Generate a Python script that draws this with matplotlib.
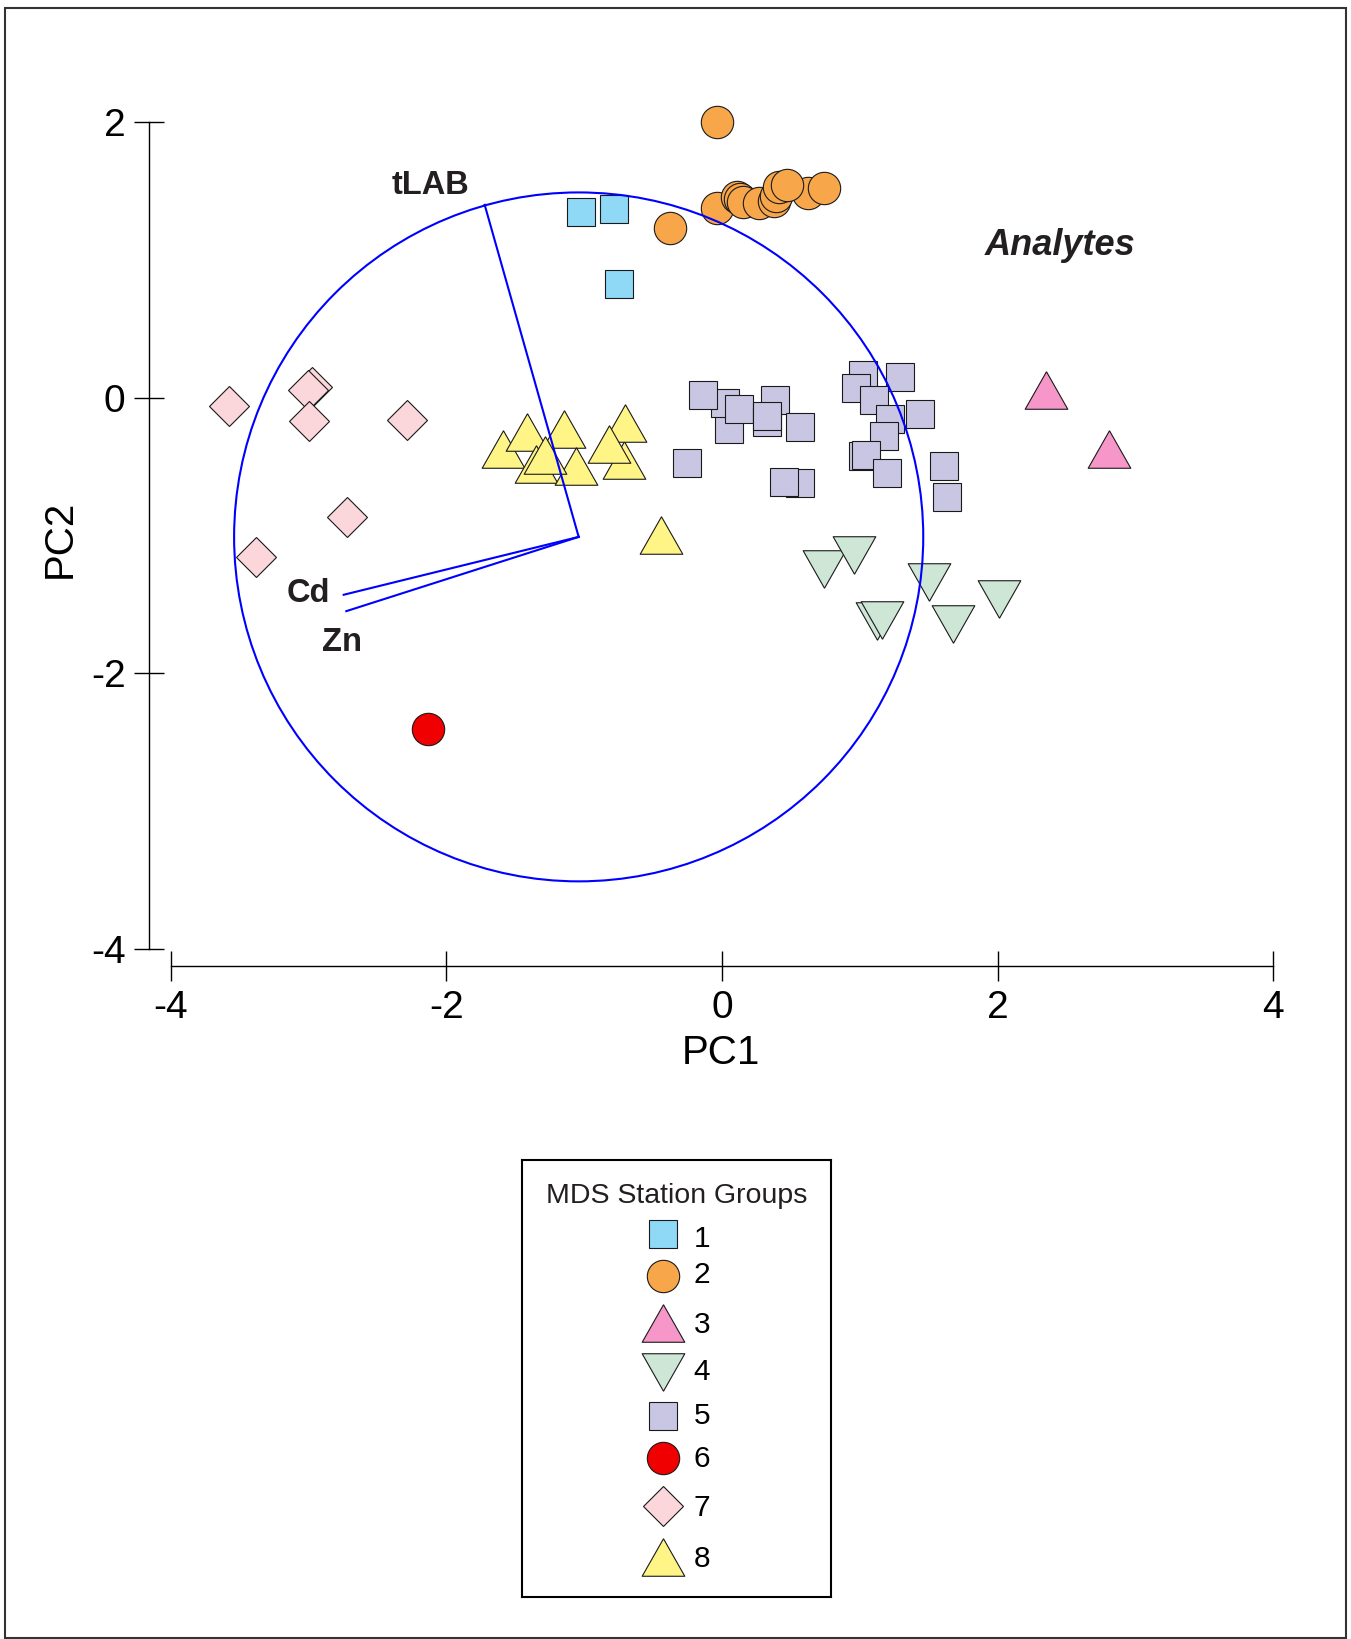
import matplotlib.pyplot as plt
from matplotlib.patches import Circle, Rectangle

plt.rcParams['font.family'] = ['Liberation Sans', 'DejaVu Sans']
plt.rcParams['axes.unicode_minus'] = False

# 1. Scores per MDS station group (PC1, PC2)
g1_x = [-1.02, -0.787, -0.747]
g1_y = [1.347, 1.371, 0.827]

g2_x = [-0.04, -0.38, -0.04, 0.11, 0.13, 0.15, 0.27, 0.375, 0.395, 0.41, 0.625, 0.74, 0.47]
g2_y = [2.00, 1.23, 1.38, 1.456, 1.445, 1.42, 1.416, 1.432, 1.464, 1.53, 1.486, 1.522, 1.546]

g3_x = [2.35, 2.81]
g3_y = [0.06, -0.37]

g4_x = [0.741, 0.961, 1.505, 1.128, 1.164, 1.674, 2.011]
g4_y = [-1.240, -1.141, -1.337, -1.618, -1.610, -1.644, -1.458]

g5_x = [0.049, 0.025, -0.135, 0.121, 0.327, 0.382, 0.327, 0.569, -0.251, 0.569, 0.453,
        1.021, 0.970, 1.292, 1.101, 1.217, 1.437, 1.174, 1.024, 1.048, 1.198, 1.609, 1.634]
g5_y = [-0.224, -0.036, 0.022, -0.079, -0.176, -0.019, -0.135, -0.213, -0.474, -0.619, -0.607,
        0.163, 0.070, 0.150, -0.014, -0.152, -0.116, -0.280, -0.425, -0.418, -0.546, -0.498, -0.716]

g6_x = [-2.135]
g6_y = [-2.406]

g7_x = [-3.575, -2.975, -3.004, -2.994, -2.288, -2.724, -3.384]
g7_y = [-0.057, 0.078, 0.054, -0.171, -0.159, -0.861, -1.153]

g8_x = [-1.589, -1.414, -1.149, -1.352, -1.062, -1.282, -0.71, -0.706, -0.82, -0.443]
g8_y = [-0.372, -0.246, -0.229, -0.481, -0.498, -0.411, -0.454, -0.184, -0.338, -0.994]

group_labels = ['1', '2', '3', '4', '5', '6', '7', '8']

# analyte vectors and correlation circle
circle_center = (-1.04, -1.009)
circle_radius = 2.5
vec_names = ['tLAB', 'Cd', 'Zn']
vec_x = [-1.722, -2.745, -2.726]
vec_y = [1.401, -1.429, -1.548]

# 2. Marker styles
tri_up = [(0, 0.88), (-1, -0.88), (1, -0.88), (0, 0.88)]
tri_dn = [(0, -0.88), (-1, 0.88), (1, 0.88), (0, -0.88)]

styles = [
    dict(marker='s', ms=20.4, mfc='#8FD8F6'),
    dict(marker='o', ms=23.3, mfc='#F8A64A'),
    dict(marker=tri_up, ms=30.7, mfc='#F796C8'),
    dict(marker=tri_dn, ms=30.7, mfc='#CDE6D6'),
    dict(marker='s', ms=20.4, mfc='#C8C6E2'),
    dict(marker='o', ms=23.3, mfc='#F00000'),
    dict(marker='D', ms=20.0, mfc='#FBD6DB'),
    dict(marker=tri_up, ms=30.7, mfc='#FFF587'),
]
groups = [(g1_x, g1_y), (g2_x, g2_y), (g3_x, g3_y), (g4_x, g4_y),
          (g5_x, g5_y), (g6_x, g6_y), (g7_x, g7_y), (g8_x, g8_y)]

# 3. Figure
fig = plt.figure(figsize=(13.51, 16.39), dpi=100)
ax = fig.add_axes([0.09575, 0.40417, 0.86717, 0.54643])
ax.set_xlim(-4.3, 4.2)
ax.set_ylim(-4.2, 2.3)

for (gx, gy), st in zip(groups, styles):
    ax.plot(gx, gy, linestyle='none', marker=st['marker'], markersize=st['ms'],
            markerfacecolor=st['mfc'], markeredgecolor='#1a1a1a', markeredgewidth=0.8,
            zorder=3)

ax.add_patch(Circle(circle_center, circle_radius, fill=False, ec='#0000FF', lw=1.5, zorder=5))
for ex, ey in zip(vec_x, vec_y):
    ax.plot([circle_center[0], ex], [circle_center[1], ey], color='#0000FF', lw=1.5, zorder=5)

# vector labels
lab_kw = dict(fontsize=23.5, fontweight='bold', color='#231F20', ha='center', va='baseline')
ax.text(-2.116, 1.481, vec_names[0], **lab_kw)
ax.text(-3.0, -1.483, vec_names[1], **lab_kw)
ax.text(-2.757, -1.838, vec_names[2], **lab_kw)
ax.text(2.456, 1.04, 'Analytes', fontsize=26, fontweight='bold', fontstyle='italic',
        color='#231F20', ha='center', va='baseline')

# detached axes
for s in ['top', 'right']:
    ax.spines[s].set_visible(False)
ax.spines['left'].set_position(('data', -4.155))
ax.spines['left'].set_bounds(-4, 2)
ax.spines['bottom'].set_position(('data', -4.124))
ax.spines['bottom'].set_bounds(-4, 4)
ax.set_xticks([-4, -2, 0, 2, 4])
ax.set_yticks([-4, -2, 0, 2])
ax.tick_params(direction='inout', length=22.3, width=1.0, labelsize=28, pad=6)
for s in ['left', 'bottom']:
    ax.spines[s].set_linewidth(1.0)
ax.patch.set_alpha(0)

fig.text(721 / 1351, 1 - 1052.5 / 1639, 'PC1', fontsize=29, ha='center', va='center')
fig.text(60 / 1351, 1 - 538.5 / 1639, 'PC2', fontsize=29, ha='center', va='center',
         rotation=90)

# 4. Legend box drawn by hand
lax = fig.add_axes([0.38616, 0.02581, 0.22894, 0.26644])
lax.set_xlim(0, 309.3)
lax.set_ylim(436.7, 0)
lax.set_xticks([])
lax.set_yticks([])
for s in lax.spines.values():
    s.set_linewidth(1.5)
    s.set_color('black')

lax.text(155, 42.7, 'MDS Station Groups', fontsize=20.5, ha='center', va='baseline',
         color='#231F20')
row_y = [74.3, 116, 163, 211.7, 256, 297.7, 346, 396.7]
num_y = [86.7, 123.3, 173.3, 220, 264, 306.7, 356, 406.7]
for lab, st, ry, ny in zip(group_labels, styles, row_y, num_y):
    lax.plot([141.6], [ry], linestyle='none', marker=st['marker'], markersize=st['ms'],
             markerfacecolor=st['mfc'], markeredgecolor='#1a1a1a', markeredgewidth=0.8)
    lax.text(172, ny, lab, fontsize=21.5, ha='left', va='baseline', color='black')

# outer frame
fig.add_artist(Rectangle((5.5 / 1351, 1.5 / 1639), 1340.5 / 1351, 1630 / 1639,
                         transform=fig.transFigure, fill=False, ec='#333333', lw=1.5))

fig.savefig('out.png', dpi=100)
